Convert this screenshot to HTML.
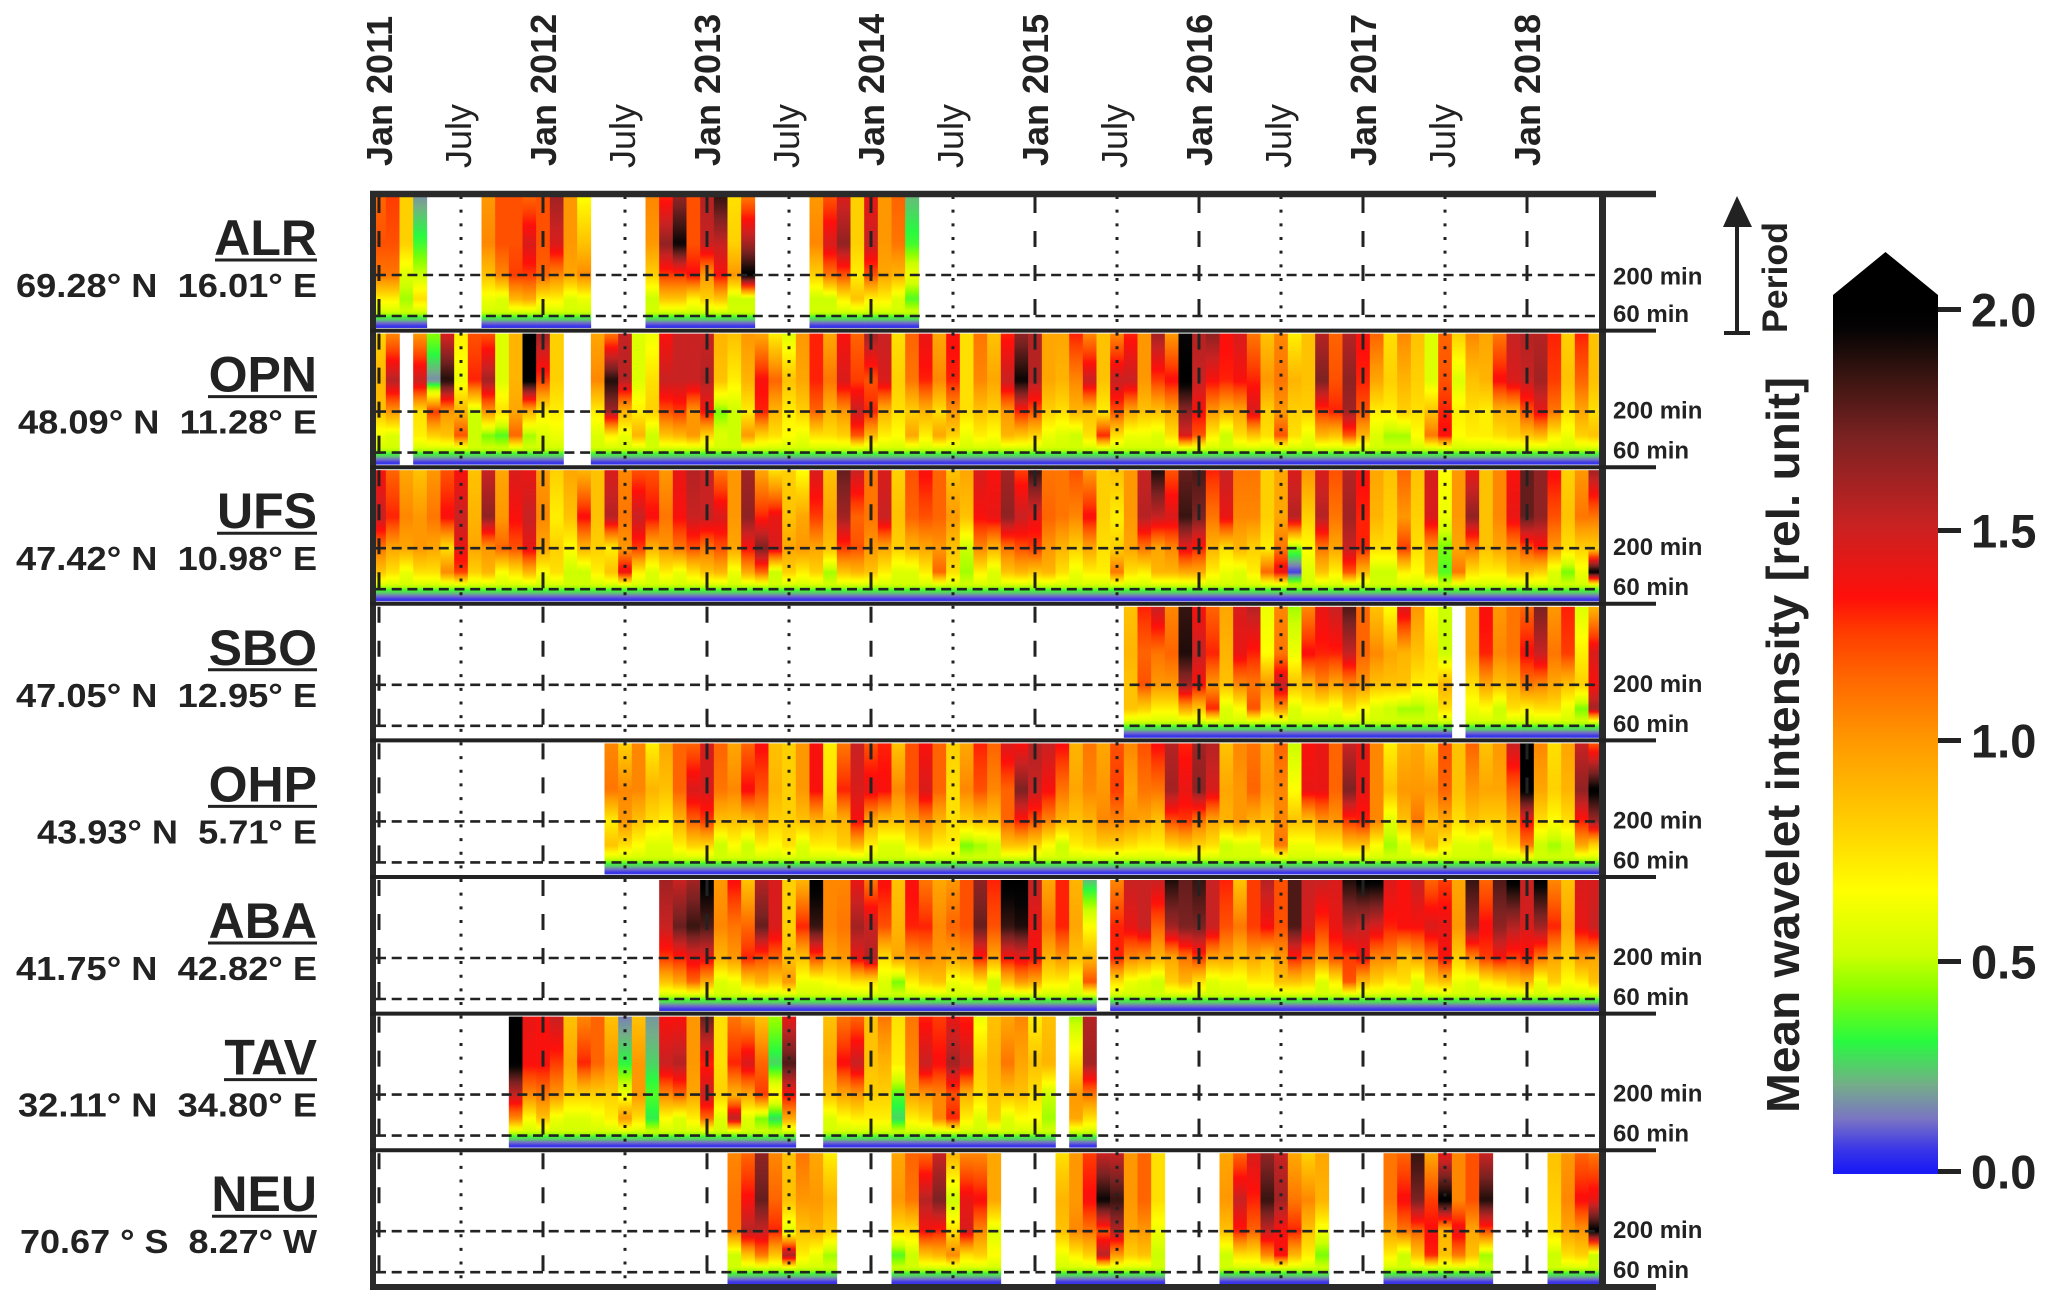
<!DOCTYPE html>
<html lang="en">
<head>
<meta charset="utf-8">
<title>Mean wavelet intensity by station, 2011-2018</title>
<style>
html,body{margin:0;padding:0;background:#fff;width:2067px;height:1308px;overflow:hidden}
svg{display:block;font-family:"Liberation Sans",sans-serif}
.name{font-size:50px;font-weight:700;fill:#222;text-anchor:end}
.coord{font-size:33px;font-weight:700;fill:#222;text-anchor:end;white-space:pre}
</style>
</head>
<body>
<svg id="chart" xmlns="http://www.w3.org/2000/svg" width="2067" height="1308" viewBox="0 0 2067 1308">
  <rect x="0" y="0" width="2067" height="1308" fill="#fff"/>
  <defs id="defs">
    <clipPath id="plot-clip"><rect x="376" y="194" width="1224" height="1094"/></clipPath>
  </defs>
  <g id="heat" clip-path="url(#plot-clip)"></g>
  <g id="grid"></g>
  <g id="frame"></g>
  <g id="xlabels"></g>
  <g id="ylabels"></g>

  <g>
    <text class="name" x="317" y="255">ALR</text>
    <line x1="215" x2="317" y1="260" y2="260" stroke="#222" stroke-width="3"/>
    <text class="coord" x="317" y="297" textLength="301" lengthAdjust="spacingAndGlyphs">69.28° N  16.01° E</text>
    <text class="name" x="317" y="391.6">OPN</text>
    <line x1="208" x2="317" y1="396.6" y2="396.6" stroke="#222" stroke-width="3"/>
    <text class="coord" x="317" y="433.6" textLength="299" lengthAdjust="spacingAndGlyphs">48.09° N  11.28° E</text>
    <text class="name" x="317" y="528.2">UFS</text>
    <line x1="217" x2="317" y1="533.2" y2="533.2" stroke="#222" stroke-width="3"/>
    <text class="coord" x="317" y="570.2" textLength="301" lengthAdjust="spacingAndGlyphs">47.42° N  10.98° E</text>
    <text class="name" x="317" y="664.8">SBO</text>
    <line x1="208" x2="317" y1="669.8" y2="669.8" stroke="#222" stroke-width="3"/>
    <text class="coord" x="317" y="706.8" textLength="301" lengthAdjust="spacingAndGlyphs">47.05° N  12.95° E</text>
    <text class="name" x="317" y="801.4">OHP</text>
    <line x1="208" x2="317" y1="806.4" y2="806.4" stroke="#222" stroke-width="3"/>
    <text class="coord" x="317" y="843.4" textLength="280" lengthAdjust="spacingAndGlyphs">43.93° N  5.71° E</text>
    <text class="name" x="317" y="938">ABA</text>
    <line x1="208" x2="317" y1="943" y2="943" stroke="#222" stroke-width="3"/>
    <text class="coord" x="317" y="980" textLength="301" lengthAdjust="spacingAndGlyphs">41.75° N  42.82° E</text>
    <text class="name" x="317" y="1074.6">TAV</text>
    <line x1="224" x2="317" y1="1079.6" y2="1079.6" stroke="#222" stroke-width="3"/>
    <text class="coord" x="317" y="1116.6" textLength="299" lengthAdjust="spacingAndGlyphs">32.11° N  34.80° E</text>
    <text class="name" x="317" y="1211.2">NEU</text>
    <line x1="212" x2="317" y1="1216.2" y2="1216.2" stroke="#222" stroke-width="3"/>
    <text class="coord" x="317" y="1253.2" textLength="297" lengthAdjust="spacingAndGlyphs">70.67 ° S  8.27° W</text>
  </g>

  <g>
    <line x1="1737" x2="1737" y1="222" y2="333" stroke="#222" stroke-width="4"/>
    <polygon points="1737,196 1752,227 1723,227" fill="#222"/>
    <line x1="1724" x2="1750" y1="333" y2="333" stroke="#222" stroke-width="4"/>
    <text transform="translate(1787 333) rotate(-90)" font-size="35" font-weight="700" fill="#222" textLength="111" lengthAdjust="spacingAndGlyphs">Period</text>
  </g>

  <text transform="translate(1799 1113) rotate(-90)" font-size="46" font-weight="700" fill="#222" textLength="736" lengthAdjust="spacingAndGlyphs">Mean wavelet intensity [rel. unit]</text>
  <g id="colorbar"></g>
</svg>

<script>
const _ = null;
function gap(n){ return new Array(n).fill(null); }

/* Time axis: one column per month starting Jan 2011 */
const monthCount = 90;
const timeTickLabels = ["Jan 2011","July","Jan 2012","July","Jan 2013","July","Jan 2014","July","Jan 2015","July","Jan 2016","July","Jan 2017","July","Jan 2018"];
const timeTickMonths = [0,6,12,18,24,30,36,42,48,54,60,66,72,78,84];

/* Period axis */
const periodTicks = [200,60];
/* Periods (min) at which each column's four readings are taken, then the shared low-period roll-off */
const readingPeriods = [1950,500,200,100];
const rollOffPeriods = [66,57,51,47];
const rollOffValues = [0.52,0.3,0.18,0.05];

/* Colour bar */
const colorbarTicks = [2.0,1.5,1.0,0.5,0.0];

/* Station order, top to bottom */
const stationCodes = ["ALR","OPN","UFS","SBO","OHP","ABA","TAV","NEU"];

/* Per-station monthly intensity readings [1950, 500, 200, 100 min]; null = no data */
const ALR = [
[1.15,1.2,1.1,.7],[1.25,1.2,1.1,.7],[.8,.8,.55,.45],[.17,.33,.5,.75],_,_,_,_,[1,1.05,.85,.6],[1.2,1.2,1.05,.55],
[1.2,1.2,1.25,.9],[1.15,1.45,1.25,.95],[1.2,1.2,1.15,.7],[1.6,1.45,1.05,.7],[1,1,.95,.55],[.65,.85,1.05,.6],_,_,_,_,
[1.05,1,.8,.5],[1.3,1.65,1.25,.85],[1.65,1.95,1.25,.85],[1.2,1.2,1.35,.7],[1.55,1.5,1,.8],[1.85,1.5,1.35,.85],[.75,.8,1,.5],[1.1,1.6,2,.5],_,_,
_,_,[1,1.05,.8,.5],[1.2,1.45,1.1,.5],[1.45,1.65,1.2,.7],[.8,.8,.7,.85],[1.4,1.5,1.2,.7],[1,1,.95,.7],[1.15,1.1,.9,.55],[.22,.33,.6,.35],
...gap(50)];

const OPN = [
[.8,.9,.85,.6],[1.05,1.55,1,.55],_,[1,1.5,.75,.7],[.42,.15,1.25,.8],[1.45,1.9,1,.85],[.7,.6,.9,1.2],[1.2,1.3,.5,.5],[1.2,1.6,1,.4],[.55,.55,.75,.35],
[.9,.9,.95,1.15],[2,2,.9,.45],[1.6,1.25,.7,.55],[.8,.8,.7,.6],_,_,[.95,1.05,.7,.55],[1.1,1.9,1.6,.7],[1.5,1.55,.9,.6],[.55,.55,.7,.9],
[.6,.75,.8,.5],[1.35,1.5,1.2,.85],[1.5,1.5,1.25,.9],[1.5,1.5,1,1],[1.5,1.55,1.35,.8],[.9,.85,.4,.55],[.85,.7,.5,.5],[1,.9,.7,1],[.95,1.35,1.3,.8],[.7,1.15,.9,.75],
[.55,.85,.7,.65],[1,.95,.8,.6],[1.3,1.3,1.15,.75],[.95,1.1,.9,.75],[1.35,1.45,1,.8],[1.15,1.25,1.5,1.2],[1.6,1.2,1.3,.9],[1.5,1.45,.9,.7],[.75,.8,.75,.65],[1.15,1.1,.8,.95],
[1.4,1.3,.9,.7],[.95,1.05,.75,.95],[1.35,1.3,1,.8],[.75,.75,.75,.6],[1.1,1.05,.85,.7],[.85,.95,.8,.65],[1.3,1.5,1,.9],[1.65,1.95,1.3,.85],[1.55,1.55,1.2,.8],[.95,.95,.8,.6],
[.95,.9,.75,.55],[1.3,1.05,.9,.5],[1.05,1.5,.85,.75],[.85,.85,.7,1.3],[1.05,1.5,1.2,.75],[1.3,1.5,.95,.6],[1,1,.85,.6],[1.6,1.25,.85,.55],[1,1.35,.95,.75],[1.95,2,1.65,1.45],
[1.55,1.5,1.35,1.2],[1.65,1.35,1,.7],[1.35,1.3,.9,.5],[1.45,1.35,.95,.75],[1.1,1.3,1.45,.85],[.85,1,.8,.75],[1.05,1.1,1,1.2],[.7,.9,.8,.75],[.85,.85,.8,.6],[1.55,1.7,1.25,.9],
[1.15,1.2,1.3,.85],[1.55,1.65,1.6,1.2],[1.35,1.3,1.2,.9],[1.15,.95,.7,.55],[.75,.8,.7,.45],[1.05,.9,.8,.45],[.85,.8,.75,.65],[.55,.55,.85,1.1],[1.15,1.2,1.3,1.35],[.8,.55,.7,.65],
[1.05,.85,.75,.7],[.95,.9,.7,.7],[1.1,1.35,.9,.75],[1.5,1.45,.9,.8],[1.55,1.5,1.2,.85],[1.55,1.6,1.4,.9],[1.3,1.25,1.1,.7],[.8,.85,.75,.6],[1.3,1.15,.95,.8],[.85,.85,.75,.85]];

const UFS = [
[1.35,1.5,1.1,.85],[1.15,1.3,.95,.75],[.95,1.05,.95,.6],[.85,1,1,.75],[1,1.1,.95,.75],[1.2,1.35,.75,1.05],[1.35,1.5,1.4,1.25],[.85,.9,.95,.8],[1.5,1.65,1,.9],[.95,1,1.15,.65],
[1.45,1.35,1.2,.75],[1.4,1.5,1.4,.9],[1,1.05,.95,.65],[.8,.7,.8,.75],[.95,.85,.65,.5],[.9,1.35,.9,.5],[.85,.85,.8,.7],[1.45,1.55,.7,.85],[1.05,1.1,1,1.4],[1.2,1.5,1.25,.7],
[1.2,1.35,.9,.55],[1,1.1,1,.7],[1.4,1.35,1.1,.6],[1.55,1.5,1.2,.75],[1.5,1.5,1.1,.85],[1.1,1.45,1.2,.9],[1,1,.95,.6],[1.6,1.65,1.35,.95],[.95,1.3,1.7,1.15],[.75,1.4,1.45,.5],
[.8,.85,.95,.8],[.65,.95,1,.7],[1.45,1.25,.95,.8],[.85,.95,.85,.45],[1.75,1.6,1.25,.85],[1.5,1.15,1.2,.9],[1.1,1.1,1,.85],[1.45,1.5,.95,.7],[.8,.85,.8,.55],[1.2,1.15,.9,.55],
[1.35,1.2,.95,.7],[1.15,1.15,1,1.15],[.85,1,.85,.75],[.95,.85,.5,.45],[1.45,1.35,1.05,.7],[1.35,1.4,.9,.55],[1.6,1.65,1.1,.85],[1.25,1.5,1.2,.9],[1.85,1.4,1.25,.85],[1.1,1.15,1,.9],
[1.1,1.1,.9,.75],[1.2,1.05,.8,.6],[1,1.35,.95,.7],[.8,.8,.75,.7],[.85,.7,.8,1.1],[1,1,.95,.75],[1.5,1.55,1.1,.7],[1.9,1.5,.95,.9],[1.2,1.45,1.05,.9],[1.75,1.85,1.4,.95],
[1.8,1.7,1.3,.95],[1.3,1.1,.9,.7],[1.5,1.4,.75,.6],[1.1,1.05,.9,.55],[1.1,1.05,.8,.7],[.8,.8,.7,1.15],[.95,.95,1.1,1.4],[1.45,1.55,.4,.05],[1,.8,.65,.55],[1.45,1.55,1.1,.85],
[1.2,1.1,.95,.7],[1.55,1.6,1.5,1.2],[1.35,1.3,1.3,.9],[.95,.9,.75,.5],[.85,.8,.75,.5],[1.15,1,1.25,.7],[.85,.8,.75,.65],[1.45,1.45,1,.9],[.65,.6,.4,.35],[1,1,.95,1.1],
[1.4,1.65,1.1,.75],[.85,.85,.85,.7],[1.05,1.05,.95,.7],[1.35,1.4,1.05,.85],[1.75,1.75,1.2,.85],[1.65,1.65,1.3,.8],[1.35,1.2,1,.55],[.8,.85,.75,.4],[1,1.1,.8,.6],[1.6,1.1,.8,2]];

const SBO = [
...gap(55),
[.85,.9,.85,.85],[1.3,1.15,1.2,.8],[1.5,1.1,1,.7],[1.05,1.15,1,.7],[1.85,1.9,1.6,.95],
[1.35,1.5,1.35,.85],[1.15,1.3,1,1.3],[.95,.9,.85,.55],[1.45,1.4,1.05,.65],[1.55,1.3,1.1,1.2],[.6,.65,1,.8],[1.05,1.1,1.5,1],[.45,.6,.85,.55],[1.05,1.35,.9,.65],[1.4,1.3,1.05,.65],
[1.5,1.3,.95,.6],[1.8,1.5,1.05,.75],[1.15,1.15,1,.65],[.85,1.05,.85,.55],[.65,.95,.85,.5],[1.45,.9,.85,.45],[1,.85,.7,.45],[.65,.75,.7,.5],[.5,.5,.9,.75],_,
[.95,.95,.75,.6],[1.35,1.3,.95,.65],[1,1.05,.85,.5],[1.1,1.1,.9,.75],[1.15,1.35,1.1,.7],[1.7,1.5,1.05,.75],[1,1.1,.95,.75],[1.3,1.25,.85,.6],[.55,.7,.8,.4],[.9,1.45,1.35,1.6]];

const OHP = [
...gap(17),
[1.05,1.1,.7,.85],[.8,1.05,1,.75],[1.05,1.05,.85,.65],
[.7,.9,.75,.55],[.95,.85,.7,.55],[1.15,1.15,.9,.7],[1.15,1.45,1.15,.8],[1.45,1.45,1.25,.8],[1.15,1.1,.85,.5],[.95,1.05,.85,.65],[1.15,1.35,.85,.5],[1.35,1.2,.95,.7],[.85,.9,.8,.65],
[.8,.8,.8,.75],[1,1,.85,.55],[1.35,1.35,.9,.7],[.7,.75,.85,.7],[1.1,1.3,.9,.8],[1.5,1.45,1.35,.9],[1.2,1.4,.95,.7],[1.3,1.35,.85,.55],[.85,1.05,.85,.55],[1.2,1.2,.95,.7],
[1.35,1.45,1.05,.8],[1.15,1.15,.9,.7],[.8,.75,.75,.7],[.95,1.05,.8,.4],[1.3,1.2,.85,.45],[1.15,1.05,.85,.5],[1.45,1.15,1.15,.85],[1.35,1.7,1.3,.85],[1.55,1.5,1.2,.8],[1.5,1.35,1.05,.65],
[1.35,1.1,.9,.5],[.9,.95,.85,.7],[1.1,1.05,.9,.75],[.95,1,1.05,.8],[1.2,1.25,1.05,.8],[1.05,.95,1,.75],[1.2,1.1,.95,.7],[1.35,1.1,.85,.7],[1.55,1.6,1.2,.8],[1.3,1.4,1.25,.85],
[1.6,1.65,1.1,.8],[1.55,1.45,.95,.75],[.85,.95,.9,.5],[1.05,1,1,.55],[1.1,1.15,.9,.55],[.95,1,.85,.75],[1.15,1.05,1.05,1.1],[.5,.65,.85,.6],[1.35,1.4,.85,.6],[1.4,1.4,1,.7],
[1.15,1.15,1,.7],[1.5,1.7,1.25,.85],[1.4,1.4,1.3,.85],[1.05,1.05,1.05,.65],[.7,.85,.55,.45],[.9,1,.85,.55],[.95,1,1.1,.75],[.8,1,.85,.9],[1.2,1.15,.95,.7],[.85,.85,.75,.55],
[1.15,1,.85,.55],[.85,.95,.8,.5],[1,.95,.8,.7],[1.5,1.15,.95,.75],[2,2,1.35,1.1],[1.05,.95,.75,.5],[.75,.8,.65,.45],[.95,.9,.75,.5],[1.5,1.65,1.3,.95],[1.2,2,1.6,.8]];

const ABA = [
...gap(21),
[1.6,1.5,1.25,.85],[1.5,1.75,1.3,.95],[1.6,1.85,1.4,1.15],[2,1.8,1.4,.95],[1,1.05,.9,.55],[1.35,1.1,1,.6],[.85,1.15,1.3,.8],[1.55,1.75,1.2,.9],
[1.45,1.45,1.15,.8],[.8,.8,.85,1],[.9,1.3,.85,.6],[2,1.85,1.2,.6],[1.05,1.05,.95,.65],[1.05,1.1,1,.7],[1.4,1.6,1.4,.75],[1.1,1.5,1.55,.75],[1.35,1.2,.75,.55],[.85,.9,.95,.4],
[1.35,1.3,1,.7],[1.1,1.3,1.05,.8],[.95,1.05,1,.85],[1,1.15,.95,.6],[1.2,1.2,1,.65],[1.65,1.75,1.3,.75],[1.3,1.2,.95,.5],[2,1.85,1.35,.85],[2,1.9,1.4,1],[1.5,1.4,1.35,.95],
[.95,1.1,.9,.7],[1.3,1.3,1,.7],[.9,.95,.85,.6],[.22,.65,.9,1.2],_,[1.05,1.3,1.3,.75],[1.5,1.4,1.05,.6],[1.5,1.5,1,.55],[1.5,1.15,.9,.5],[1.9,1.6,.95,.8],
[1.75,1.7,1.1,.9],[1.85,1.7,1.25,.75],[1.5,1.5,.95,.55],[1.3,1.2,.95,.6],[.85,1.1,.85,.6],[1.25,1.25,.95,.7],[1.55,1.35,.85,.7],[1.2,1.2,1,.85],[1.8,1.8,1.3,.85],[1.5,1.45,1.15,.8],
[1.5,1.25,1,.55],[1.45,1.4,1.2,.7],[1.9,1.55,1.25,1.2],[2,1.5,1.35,.9],[2,1.45,1.05,.8],[1.45,1.3,1.05,.7],[1.35,1.35,.85,.75],[1.5,1.35,.95,.55],[1.15,1.45,1.1,.8],[1.25,1.4,1.35,.85],
[.95,1,.8,.6],[1.85,1.65,1.05,.55],[1.15,1.35,1.25,.7],[1.8,1.65,1.35,.75],[2,1.55,1.25,.85],[1.5,1.45,1.3,.9],[2,1.6,1.1,.6],[1.05,1.3,.95,.8],[.85,.95,.8,.65],[1.45,1.4,1,.7],[1.45,1.5,.95,.85]];

const TAV = [
...gap(10),
[2,2,1.5,1.05],[1.4,1.35,1.05,.65],[1.35,1.35,1.1,.85],[1.5,1.25,1,.6],[.85,.95,.8,.55],[1.05,1.3,.8,.55],[1.15,1.15,.8,.6],[.85,1,.8,.7],[.14,.3,.6,1],[.85,1,1,.75],
[.17,.25,.35,.28],[1.35,1.5,1.05,.65],[1.35,1.55,1.15,.55],[1,1,.95,.7],[1.75,1.3,1.5,1.15],[.75,.75,.8,.55],[1.1,1.3,.9,1.55],[1,1.45,.95,.55],[.85,1.15,1.25,.4],[.45,.25,.7,.25],
[1.4,1.8,1.35,.95],_,_,[.85,.95,.85,.55],[1.1,1.35,.95,.65],[1.15,1.5,1,.7],[.85,.85,.8,.7],[1.1,.9,.8,.7],[.75,.7,.35,.25],[1.1,1.05,.95,.7],
[1.3,1.5,1,.75],[1.25,1.35,1.05,1.05],[1.4,1.6,1.2,1.3],[1.3,1.5,.9,.7],[.6,.8,.75,.55],[.85,.9,.85,.8],[.95,1.1,.85,.55],[1.05,.95,.85,.65],[.7,.85,.75,.65],[.85,.9,.5,.45],
_,[.45,.75,1,.95],[1.55,1.6,1.1,.75],
...gap(37)];

const NEU = [
...gap(26),
[1.05,1.1,1.1,.5],[1.15,1.35,1.55,.85],[1.65,1.75,1.5,1.1],[1.05,1.15,1.3,.85],
[.85,.85,.55,1.6],[1.1,1,.85,.7],[.95,1,.9,.6],[.7,.9,.8,.45],_,_,_,_,[.95,1,.75,.35],[1.15,1.1,.75,.5],
[1.15,1.55,1.35,.85],[1.5,1.7,1.3,.9],[.9,.5,.75,1.05],[1.05,1.4,1.45,.75],[1.05,1.35,1.05,.8],[.95,.95,.55,.65],_,_,_,_,
[.75,.9,.85,.6],[1,1,1.05,.7],[1.25,1.35,1.1,.8],[1.5,1.95,1.2,1.55],[1.5,1.85,1.55,1],[1,1,.95,.8],[1.15,1.15,1,.85],[.75,.75,.6,.5],_,_,
_,_,[.95,1,.85,.5],[1.15,1.5,1.3,.75],[1.45,1.3,1.15,.75],[1.65,1.85,1.5,1.05],[1.5,1.6,1.35,1.35],[.95,1.1,1.3,.9],[.8,1.05,.85,.7],[.95,.9,.6,.4],
_,_,_,_,[1.1,1.1,.95,.7],[1.15,1.35,1.1,.5],[1.85,1.7,1.15,.85],[.95,1.25,1.35,1.3],[1.4,2,.9,.85],[1.05,1.05,1.4,1.1],
[1.2,1.2,.95,.85],[1.5,1.9,1.2,.45],_,_,_,_,[.85,.8,.75,.5],[1,1.05,.95,.75],[1.15,1.35,1,.8],[1.1,1.4,2,.5]];

const stationSeries = [ALR,OPN,UFS,SBO,OHP,ABA,TAV,NEU];

/* Colour scale */
const scaleValues = [0,.05,.12,.2,.3,.42,.5,.65,.8,1,1.15,1.25,1.33,1.5,1.7,1.85,1.95,2];
const scaleColors = ["#1a1af5","#3a36e8","#7a74c4","#74ad88","#28fa40","#88ff00","#ccff00","#ffff00","#ffd000","#ff9800","#ff6400","#ff3c00","#ff0f0a","#c82222","#7c2222","#361410","#060404","#000000"];

const NS = "http://www.w3.org/2000/svg";
const ROW_TOP = 194, ROW_H = 136.6, X0 = 379, MONTH_W = 164/12;
const rowTop = function(r){ return ROW_TOP + r*ROW_H; };
const xMonth = function(m){ return X0 + m*MONTH_W; };
const relPeriod = function(p){ return 81 + 78.4*Math.log10(200/p); };
const yValue = function(v){ return 1171 - v*431; };
/* Colour-bar ticks at half units sit slightly low in the source figure */
const yTick = function(v){ return yValue(v) + (Math.round(v*2)%2 ? 6 : 0.5); };

function hexRgb(h){ return [parseInt(h.slice(1,3),16),parseInt(h.slice(3,5),16),parseInt(h.slice(5,7),16)]; }
function colorOf(v){
  v = Math.max(0,Math.min(2,v));
  for(let i=1;i<scaleValues.length;i++){
    if(v<=scaleValues[i]){
      const t=(v-scaleValues[i-1])/(scaleValues[i]-scaleValues[i-1]);
      const a=hexRgb(scaleColors[i-1]), b=hexRgb(scaleColors[i]);
      return "rgb("+a.map(function(c,k){return Math.round(c+(b[k]-c)*t);}).join(",")+")";
    }
  }
  return "#000";
}
function mk(tag,attrs,parent){
  const el=document.createElementNS(NS,tag);
  for(const k in attrs){ el.setAttribute(k,attrs[k]); }
  parent.appendChild(el);
  return el;
}

const defs=document.getElementById("defs");
const heat=document.getElementById("heat");
const grid=document.getElementById("grid");
const frame=document.getElementById("frame");
const xlabels=document.getElementById("xlabels");
const ylabels=document.getElementById("ylabels");
const colorbar=document.getElementById("colorbar");

/* Heatmap columns */
const knotPeriods = readingPeriods.concat(rollOffPeriods);
const knotRel = knotPeriods.map(relPeriod);
const RELTOP = 3, RELBOT = 134;
stationSeries.forEach(function(series,r){
  const code=stationCodes[r].toLowerCase();
  const rowG=mk("g",{},heat);
  
  
  series.forEach(function(col,m){
    if(!col){ return; }
    const vals=col.concat(rollOffValues);
    const id="g"+r+"_"+m;
    const grad=mk("linearGradient",{id:id,x1:0,y1:0,x2:0,y2:1},defs);
    for(let rel=RELTOP;rel<=RELBOT;rel+=3){
      let v=vals[vals.length-1];
      if(rel<=knotRel[0]){ v=vals[0]; }
      else{
        for(let k=1;k<knotRel.length;k++){
          if(rel<=knotRel[k]){
            v=vals[k-1]+(vals[k]-vals[k-1])*(rel-knotRel[k-1])/(knotRel[k]-knotRel[k-1]);
            break;
          }
        }
      }
      mk("stop",{offset:((rel-RELTOP)/(RELBOT-RELTOP)).toFixed(3),"stop-color":colorOf(v)},grad);
    }
    const rect=mk("rect",{
      x:(xMonth(m)-MONTH_W/2).toFixed(2),
      y:(rowTop(r)+RELTOP).toFixed(2),
      width:(MONTH_W+0.3).toFixed(2),
      height:RELBOT-RELTOP,
      fill:"url(#"+id+")"
    },rowG);
    
    
  });
});

/* Grid: horizontal period lines, vertical time lines */
stationCodes.forEach(function(code,r){
  const top=rowTop(r);
  periodTicks.forEach(function(p){
    const y=top+relPeriod(p);
    const line=mk("line",{x1:376,x2:1598,y1:y,y2:y,stroke:"#222","stroke-width":2.6,"stroke-dasharray":"10 5.7"},grid);
    
    
  });
  timeTickLabels.forEach(function(label,i){
    const x=xMonth(timeTickMonths[i]);
    const isJan=label.indexOf("Jan")===0;
    const line=mk("line",{
      x1:x,x2:x,y1:top+(isJan?3:2),y2:top+ROW_H,stroke:"#222","stroke-width":3,
      "stroke-dasharray":isJan?"16 18":"3 10.67"
    },grid);
    
    
  });
});

/* Frame */
const frameLines=[
  {n:"frame-left",x1:373,x2:373,y1:191,y2:1290,w:6},
  {n:"frame-right",x1:1602.5,x2:1602.5,y1:191,y2:1290,w:7},
  {n:"frame-top",x1:370,x2:1656,y1:194,y2:194,w:6.5},
  {n:"frame-bottom",x1:370,x2:1656,y1:1287,y2:1287,w:6}
];
frameLines.forEach(function(d){
  const l=mk("line",{x1:d.x1,x2:d.x2,y1:d.y1,y2:d.y2,stroke:"#2a2a2a","stroke-width":d.w},frame);
  
  
});
for(let r=1;r<stationCodes.length;r++){
  const y=rowTop(r);
  const l=mk("line",{x1:370,x2:1656,y1:y,y2:y,stroke:"#222","stroke-width":4},frame);
  
  
}

/* Time labels */
timeTickLabels.forEach(function(label,i){
  const x=xMonth(timeTickMonths[i]);
  const isJan=label.indexOf("Jan")===0;
  const t=mk("text",{
    transform:"translate("+(x+(isJan?13:10))+" "+(isJan?166:168)+") rotate(-90)",
    "font-size":isJan?36:36,
    "font-weight":isJan?700:400,
    fill:"#222"
  },xlabels);
  
  
  t.textContent=label;
});

/* Period labels */
stationCodes.forEach(function(code,r){
  periodTicks.forEach(function(p){
    const labelDrop = p===200 ? (r===0 ? 9.5 : 7) : 6;
    const t=mk("text",{
      x:1613,
      y:rowTop(r)+relPeriod(p)+labelDrop,
      "font-size":24,"font-weight":700,fill:"#222"
    },ylabels);
    
    
    t.textContent=p+" min";
  });
});

/* Colour bar */
const cbGrad=mk("linearGradient",{id:"cb-grad",gradientUnits:"userSpaceOnUse",x1:0,x2:0,y1:yValue(0),y2:yValue(2)},defs);
scaleValues.forEach(function(v,i){
  mk("stop",{offset:v/2,"stop-color":scaleColors[i]},cbGrad);
});
const cbShape=mk("polygon",{points:"1833,1174 1833,295 1885.5,252 1938,295 1938,1174",fill:"url(#cb-grad)"},colorbar);


colorbarTicks.forEach(function(v){
  const y=yTick(v);
  const tick=mk("line",{x1:1938,x2:1961,y1:y,y2:y,stroke:"#222","stroke-width":5},colorbar);
  
  
  const t=mk("text",{x:1971,y:y+17,"font-size":47,"font-weight":700,fill:"#222"},colorbar);
  
  
  t.textContent=v.toFixed(1);
});
</script>
</body>
</html>
